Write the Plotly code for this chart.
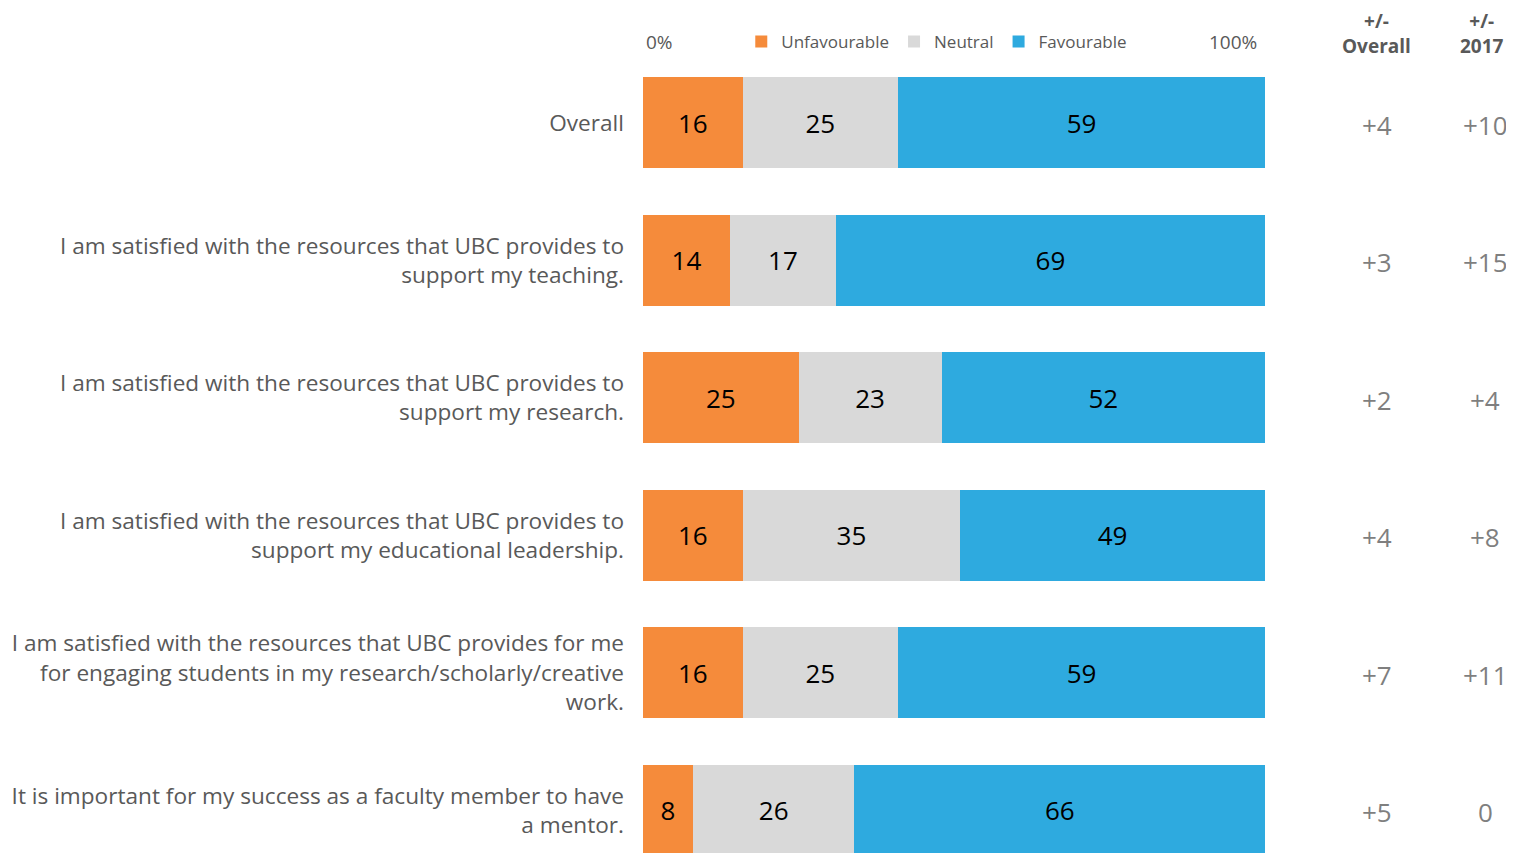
import plotly.graph_objects as go

categories = [
    "Overall",
    "I am satisfied with the resources that UBC provides to<br>support my teaching.",
    "I am satisfied with the resources that UBC provides to<br>support my research.",
    "I am satisfied with the resources that UBC provides to<br>support my educational leadership.",
    "I am satisfied with the resources that UBC provides for me<br>for engaging students in my research/scholarly/creative<br>work.",
    "It is important for my success as a faculty member to have<br>a mentor.",
]
unfavourable = [16, 14, 25, 16, 16, 8]
neutral = [25, 17, 23, 35, 25, 26]
favourable = [59, 69, 52, 49, 59, 66]
diff_overall = ["+4", "+3", "+2", "+4", "+7", "+5"]
diff_2017 = ["+10", "+15", "+4", "+8", "+11", "0"]

FONT = "Open Sans"
rows = list(range(len(categories)))

fig = go.Figure()
for name, vals, col in [
    ("Unfavourable", unfavourable, "#F58B3B"),
    ("Neutral", neutral, "#D9D9D9"),
    ("Favourable", favourable, "#2EAADF"),
]:
    fig.add_trace(go.Bar(
        y=rows, x=vals, name=name, orientation="h",
        marker=dict(color=col, line=dict(width=0)),
        text=[str(v) for v in vals], textposition="inside",
        insidetextanchor="middle",
        textfont=dict(size=26, color="#000000", family=FONT),
        width=0.662,
    ))

for i in rows:
    fig.add_annotation(x=1.180, y=i, xref="paper", yref="y", text=diff_overall[i],
                       showarrow=False, xanchor="center", yanchor="middle", yshift=-2,
                       font=dict(size=26, color="#7F7F7F", family=FONT))
    fig.add_annotation(x=1.354, y=i, xref="paper", yref="y", text=diff_2017[i],
                       showarrow=False, xanchor="center", yanchor="middle", yshift=-2,
                       font=dict(size=26, color="#7F7F7F", family=FONT))

fig.add_annotation(x=1.180, y=1.0255, xref="paper", yref="paper", text="<b>+/-<br>Overall</b>",
                   showarrow=False, xanchor="center", yanchor="middle",
                   font=dict(size=19, color="#595959", family=FONT))
fig.add_annotation(x=1.349, y=1.0255, xref="paper", yref="paper", text="<b>+/-<br>2017</b>",
                   showarrow=False, xanchor="center", yanchor="middle",
                   font=dict(size=19, color="#595959", family=FONT))
fig.add_annotation(x=0.002, y=1.015, xref="paper", yref="paper", text="0%", xanchor="left",
                   yanchor="middle", showarrow=False,
                   font=dict(size=19, color="#595959", family=FONT))
fig.add_annotation(x=0.99, y=1.015, xref="paper", yref="paper", text="100%", xanchor="right",
                   yanchor="middle", showarrow=False,
                   font=dict(size=19, color="#595959", family=FONT))

fig.update_layout(
    barmode="stack",
    width=1506, height=845,
    margin=dict(l=635, r=249, t=46, b=0),
    paper_bgcolor="white", plot_bgcolor="white",
    font=dict(family=FONT, color="#595959"),
    showlegend=True,
    legend=dict(orientation="h", x=0.158, y=1.015, xanchor="left", yanchor="middle",
                font=dict(size=17, color="#595959", family=FONT),
                itemwidth=30, traceorder="normal", bgcolor="rgba(0,0,0,0)"),
    xaxis=dict(range=[0, 100], showgrid=False, zeroline=False, showticklabels=False,
               fixedrange=True),
    yaxis=dict(range=[5.31, -0.5], tickmode="array", tickvals=rows, ticktext=categories,
               showgrid=False, zeroline=False, ticks="", ticklabelstandoff=18,
               tickfont=dict(size=22.6, color="#595959", family=FONT)),
)

fig.write_html("out.html")
